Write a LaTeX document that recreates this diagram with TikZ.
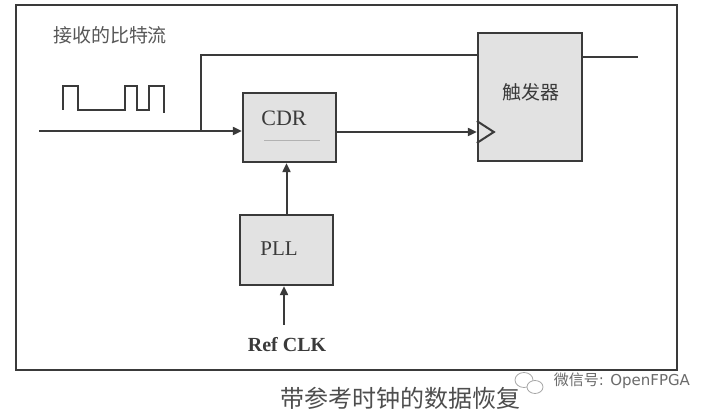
\documentclass[tikz,border=0pt]{standalone}
\usepackage{fontspec}
\setmainfont{Liberation Serif}
\newfontfamily\cjk{Noto Sans CJK SC}
\newfontfamily\wmfont{DejaVu Sans}
\usetikzlibrary{arrows.meta}
\definecolor{ink}{HTML}{3A3A3A}
\definecolor{boxfill}{HTML}{E2E2E2}
\tikzset{
  blk/.style={draw=ink, line width=2.3pt, fill=boxfill, inner sep=0pt},
  wire/.style={draw=ink, line width=2pt},
  arr/.style={wire, -{Triangle[length=9pt,width=8pt]}},
  lbl/.style={inner sep=0pt, text=ink}
}
\begin{document}
\begin{tikzpicture}[x=1pt,y=-1pt]
\useasboundingbox (0,0) rectangle (716,419);
\fill[white] (0,0) rectangle (716,419);
% frame
\draw[ink, line width=2.8pt] (16,5) rectangle (677,370);
% blocks
\node[blk, minimum width=93pt, minimum height=69pt] (cdr) at (289.5,127.5) {};
\node[blk, minimum width=104pt, minimum height=128pt] (ff) at (530,97) {};
\node[blk, minimum width=93pt, minimum height=70pt] (pll) at (286.5,250) {};
% texts
\node[lbl, font=\fontsize{22}{22}\selectfont] (cdrt) at (284,118) {CDR};
\node[lbl, font=\fontsize{21}{21}\selectfont] (pllt) at (279,249) {PLL};
\node[lbl, font=\cjk\fontsize{19}{19}\selectfont] (fft) at (531,92) {触发器};
\node[lbl, font=\cjk\fontsize{19}{19}\selectfont, text=ink!85] (bits) at (110,35) {接收的比特流};
\node[lbl, font=\bfseries\fontsize{20}{20}\selectfont] (refclk) at (287,345) {Ref CLK};
\node[lbl, font=\cjk\fontsize{24}{24}\selectfont, text=ink!90] (cap) at (400,398) {带参考时钟的数据恢复};
\node[lbl, font=\wmfont\fontsize{15}{15}\selectfont, text=ink!75] (wm) at (622,381) {{\cjk 微信号}: OpenFPGA};
% wechat icon (watermark)
\draw[gray!70, line width=0.8pt] (524,380) ellipse (9pt and 7.5pt);
\draw[gray!70, line width=0.8pt, fill=white] (535,387) ellipse (8pt and 6.5pt);
% faint line in CDR
\draw[gray!60, line width=0.6pt] (264,140) -- (320,140);
% square wave
\draw[wire, line width=1.6pt] (63,110) -- (63,86) -- (78,86) -- (78,110) -- (125,110) -- (125,86)
  -- (137,86) -- (137,110) -- (149,110) -- (149,86) -- (164,86) -- (164,113);
% coordinates
\coordinate (in) at (39,131);
\coordinate (br) at (201,131);
\coordinate (ffd) at (ff.west |- 0,55);
\coordinate (ffclk) at (ff.west |- 0,132);
\coordinate (ffq) at (ff.east |- 0,57);
\coordinate (out) at (638,57);
\coordinate (refstart) at (284,325);
% connectors
\draw[arr] (in) -- (in -| cdr.west);
\draw[wire] (br) |- (ffd);
\draw[arr] (cdr.east |- ffclk) -- (ffclk);
\draw[wire] (ffq) -- (out);
\draw[arr] (pll.north) -- (cdr.south -| pll.north);
\draw[arr] (refstart) -- (refstart |- pll.south);
% clock triangle
\draw[wire] ([yshift=-11pt]ffclk) -- ([xshift=17pt]ffclk) -- ([yshift=11pt]ffclk);
\end{tikzpicture}
\end{document}
